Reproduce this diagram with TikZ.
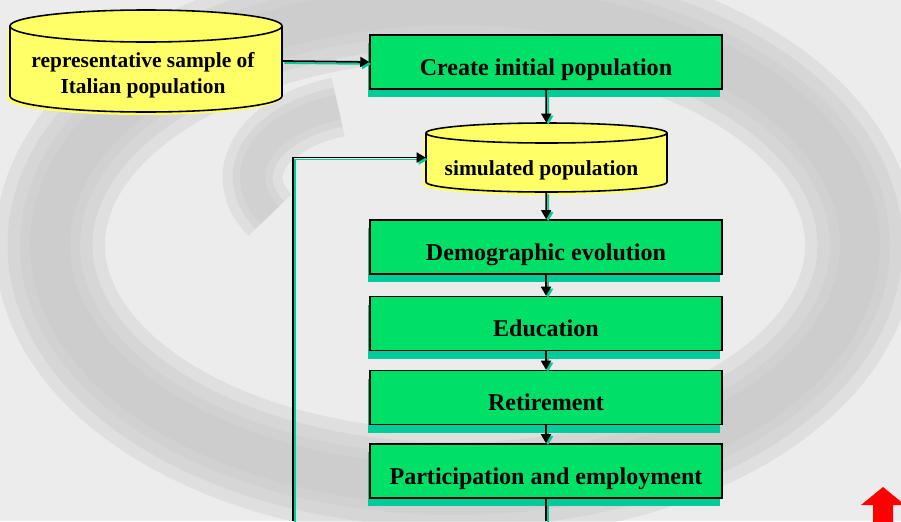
\documentclass[tikz,border=0pt]{standalone}
\usepackage{fontspec}
\setmainfont{Liberation Serif}
\usetikzlibrary{positioning,arrows.meta,shadows}
\definecolor{boxgreen}{RGB}{0,224,102}
\definecolor{shadowteal}{RGB}{0,204,153}
\definecolor{cylyellow}{RGB}{255,255,102}
\definecolor{bggray}{RGB}{236,236,236}
\definecolor{ringgray}{RGB}{200,200,200}
\tikzset{
  box/.style={draw=black, line width=0.9pt, fill=boxgreen, minimum width=7.04cm, minimum height=1.08cm,
    inner sep=0pt, text height=15pt, text depth=0pt, font=\fontsize{13.7}{16}\selectfont\bfseries,
    drop shadow={fill=shadowteal, opacity=1, shadow xshift=-0.04cm, shadow yshift=-0.16cm}},
  cyl/.style={inner sep=0pt},
  cyltext/.style={inner sep=0pt, align=center, font=\fontsize{12.2}{14.8}\selectfont\bfseries},
  link/.style={line width=1pt, -{Triangle[length=0.18cm,width=0.2cm]}},
  linkshadow/.style={shadowteal, line width=1pt, -{Triangle[length=0.18cm,width=0.2cm]},
    transform canvas={shift={(0.04cm,-0.04cm)}}},
  haze/.style={ringgray, opacity=0.35}
}
\begin{document}
\begin{tikzpicture}[x=0.02cm,y=0.02cm]
  \useasboundingbox (0,0) rectangle (901,-521);
  \clip (0,0) rectangle (901,-521);
  % background
  \fill[bggray] (0,0) rectangle (901,-521);
  \foreach \w in {2.2,1.7,1.2,0.8}
    \draw[haze, line width=\w cm] (455,-245) ellipse [x radius=405, y radius=240];
  \foreach \w in {1.2,0.8,0.5}
    \draw[haze, line width=\w cm] (270,-215) arc[start angle=210, end angle=110, x radius=130, y radius=75];

  % cylinders
  \fill[cylyellow, shift={(-3,-3)}] (10,-26) -- (10,-96) arc[start angle=180, end angle=360, x radius=136, y radius=16]
    -- (282,-26) arc[start angle=0, end angle=180, x radius=136, y radius=16] -- cycle;
  \fill[cylyellow] (10,-26) -- (10,-96) arc[start angle=180, end angle=360, x radius=136, y radius=16]
    -- (282,-26) arc[start angle=0, end angle=180, x radius=136, y radius=16] -- cycle;
  \draw[line width=0.9pt] (10,-26) -- (10,-96) arc[start angle=180, end angle=360, x radius=136, y radius=16] -- (282,-26);
  \draw[line width=0.9pt] (146,-26) ellipse [x radius=136, y radius=16];
  \node[cyl, minimum width=5.44cm, minimum height=2.04cm,
    label={[cyltext, xshift=-0.06cm, yshift=-0.28cm]center:representative sample of\\Italian population}] (sample) at (146,-61) {};

  \fill[cylyellow, shift={(-3,-3)}] (426,-133) -- (426,-182) arc[start angle=180, end angle=360, x radius=120.5, y radius=10]
    -- (667,-133) arc[start angle=0, end angle=180, x radius=120.5, y radius=10] -- cycle;
  \fill[cylyellow] (426,-133) -- (426,-182) arc[start angle=180, end angle=360, x radius=120.5, y radius=10]
    -- (667,-133) arc[start angle=0, end angle=180, x radius=120.5, y radius=10] -- cycle;
  \draw[line width=0.9pt] (426,-133) -- (426,-182) arc[start angle=180, end angle=360, x radius=120.5, y radius=10] -- (667,-133);
  \draw[line width=0.9pt] (546.5,-133) ellipse [x radius=120.5, y radius=10];
  \node[cyl, minimum width=4.82cm, minimum height=1.38cm,
    label={[cyltext, xshift=-0.1cm, yshift=-0.26cm]center:simulated population}] (sim) at (546.5,-157.5) {};

  % boxes
  \node[box] (create) at (546,-62) {Create initial population};
  \node[box] (demo) at (546,-247) {Demographic evolution};
  \node[box] (edu) at (546,-323.5) {Education};
  \node[box] (ret) at (546,-397.5) {Retirement};
  \node[box] (part) at (546,-471) {Participation and employment};
  \coordinate (fb) at (293,-521);

  % connectors
  \foreach \a/\b in {sample.east/create.west, create/sim, sim/demo, demo/edu, edu/ret, ret/part}
    \draw[linkshadow] (\a) -- (\b);
  \draw[linkshadow] (fb) |- (sim.west);
  \draw[shadowteal, line width=1pt, transform canvas={shift={(0.04cm,-0.04cm)}}] (part) -- (part.south |- fb);
  \foreach \a/\b in {sample.east/create.west, create/sim, sim/demo, demo/edu, edu/ret, ret/part}
    \draw[link] (\a) -- (\b);
  \draw[link] (fb) |- (sim.west);
  \draw[line width=1pt] (part) -- (part.south |- fb);

  % red arrow
  \fill[red] (883,-487) -- (905,-505) -- (893,-505) -- (893,-525) -- (873,-525) -- (873,-505) -- (861,-505) -- cycle;
\end{tikzpicture}
\end{document}
